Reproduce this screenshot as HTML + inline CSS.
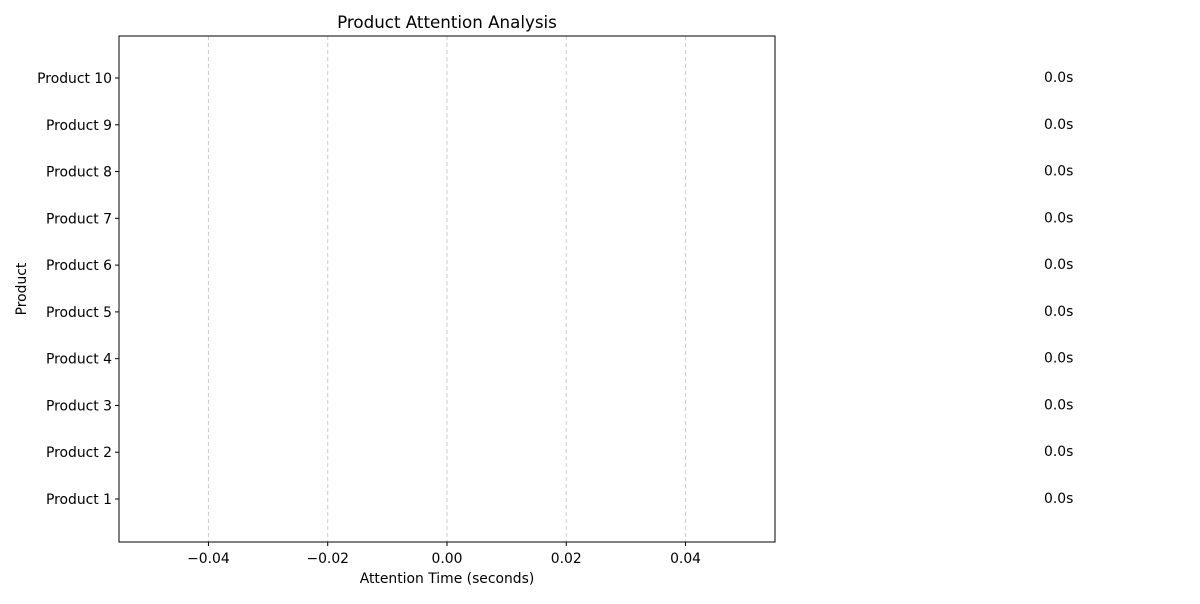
<!DOCTYPE html>
<html><head><meta charset="utf-8"><style>
body{margin:0;background:#fff;font-family:"DejaVu Sans","Liberation Sans",sans-serif}
</style></head><body>
<svg id="chart" width="1200" height="600" xmlns="http://www.w3.org/2000/svg" font-family="DejaVu Sans, Liberation Sans, sans-serif"></svg>
<script>
const categories=["Product 1","Product 2","Product 3","Product 4","Product 5","Product 6","Product 7","Product 8","Product 9","Product 10"];
const values=[0,0,0,0,0,0,0,0,0,0];
const xTicks=[-0.04,-0.02,0.00,0.02,0.04];
const xTickLabels=["−0.04","−0.02","0.00","0.02","0.04"];
const L=119,R=775,T=36,B=542,xmin=-0.055,xmax=0.055;
const xs=v=>L+(v-xmin)/(xmax-xmin)*(R-L);
const ys=i=>499-i*(499-78)/9;
const svg=document.getElementById('chart');const NS="http://www.w3.org/2000/svg";
function mk(t,a,txt){const e=document.createElementNS(NS,t);for(const k in a)e.setAttribute(k,a[k]);if(txt!==undefined)e.textContent=txt;svg.appendChild(e);return e;}
xTicks.forEach((v,i)=>{
 const g=mk('line',{x1:xs(v),x2:xs(v),y1:T,y2:B,stroke:'#ccc','stroke-dasharray':'4,3','stroke-width':1});
 
 
 const tk=mk('line',{x1:xs(v),x2:xs(v),y1:B,y2:B+4,stroke:'#000'});
 
 
 const t=mk('text',{x:xs(v),y:B+21,'text-anchor':'middle','font-size':13.9},xTickLabels[i]);
 
 
});
categories.forEach((c,i)=>{
 const y=ys(i);
 const bar=mk('rect',{x:Math.min(xs(0),xs(values[i])),y:y-16,width:Math.abs(xs(values[i])-xs(0)),height:32,fill:'#1f77b4'});
 
 
 const tk=mk('line',{x1:L-4,x2:L,y1:y,y2:y,stroke:'#000'});
 
 
 const t=mk('text',{x:L-7,y:y+5,'text-anchor':'end','font-size':13.9},c);
 
 
 const v=mk('text',{x:1044,y:y+4,'font-size':13.9},values[i].toFixed(1)+'s');
 
 
});
const fr=mk('rect',{x:L,y:T,width:R-L,height:B-T,fill:'none',stroke:'#000','stroke-width':1});


const ti=mk('text',{x:447,y:28,'text-anchor':'middle','font-size':16.7},'Product Attention Analysis');


const xl=mk('text',{x:447,y:583,'text-anchor':'middle','font-size':13.9},'Attention Time (seconds)');


const yl=mk('text',{x:26,y:289,'text-anchor':'middle','font-size':13.9,transform:'rotate(-90 26 289)'},'Product');


</script>
</body></html>
